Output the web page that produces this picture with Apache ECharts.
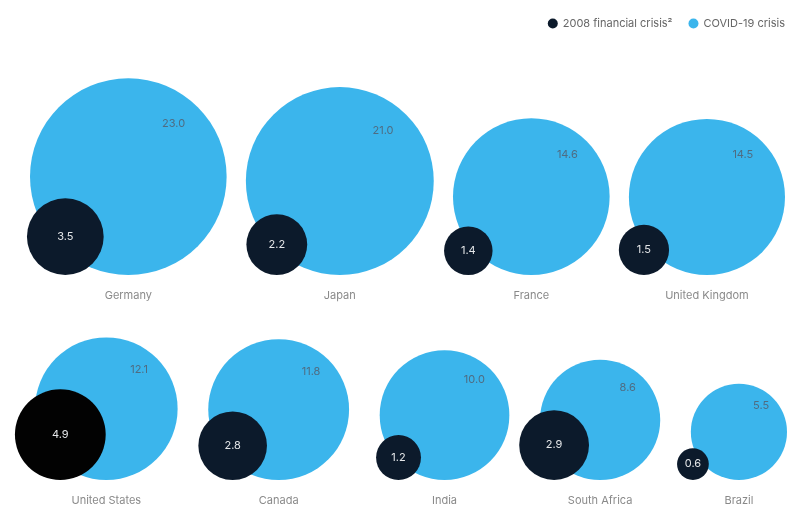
<!DOCTYPE html>
<html>
<head>
<meta charset="utf-8">
<script src="https://cdn.jsdelivr.net/npm/echarts@6/dist/echarts.min.js"></script>
<style>
html,body{margin:0;padding:0;background:#fff;}
#chart{width:792px;height:506px;}
</style>
</head>
<body>
<div id="chart"></div>
<script>
// row 1
var countries1 = ['Germany', 'Japan', 'France', 'United Kingdom'];
var covid1 = [23.0, 21.0, 14.6, 14.5];
var crisis1 = [3.5, 2.2, 1.4, 1.5];
// row 2
var countries2 = ['United States', 'Canada', 'India', 'South Africa', 'Brazil'];
var covid2 = [12.1, 11.8, 10.0, 8.6, 5.5];
var crisis2 = [4.9, 2.8, 1.2, 2.9, 0.6];

var K = 20.5; // px radius per sqrt(unit)
var BLUE = '#3bb5ec';
var NAVY = '#0c1a2b';

function radius(v){
	return K * Math.sqrt(v);
}

// spread the blue circles evenly between x0 and x1
function layoutRow(values, x0, x1){
	var sum = 0, i;
	for(i = 0; i < values.length; i++){
		sum += radius(values[i]) * 2;
	}
	var gap = (x1 - x0 - sum) / (values.length - 1);
	var xs = [], x = x0;
	for(i = 0; i < values.length; i++){
		var r = radius(values[i]);
		xs.push(x + r);
		x += r * 2 + gap;
	}
	return xs;
}

function buildRow(idx, names, covid, crisis, x0, x1, dx){
	var xs = layoutRow(covid, x0, x1);
	var blue = [], dark = [], lbl = [];
	for(var i = 0; i < names.length; i++){
		blue.push({
			name: names[i],
			value: [xs[i], 0, covid[i]],
			symbolOffset: [0, -radius(covid[i])]
		});
		var d = {
			name: names[i],
			value: [xs[i], 0, crisis[i]],
			symbolOffset: [dx, -radius(crisis[i])]
		};
		if(names[i] === 'United States'){
			d.itemStyle = { color: '#020202' };
		}
		dark.push(d);
		lbl.push({ name: names[i], value: [xs[i], 0] });
	}
	var size = function(val){ return radius(val[2]) * 2; };
	return [{
		name: 'COVID-19 crisis',
		type: 'scatter',
		xAxisIndex: idx, yAxisIndex: idx,
		clip: false,
		symbol: 'circle',
		symbolSize: size,
		itemStyle: { color: BLUE, opacity: 1 },
		label: {
			show: true,
			position: ['73%', '23%'],
			align: 'center',
			verticalAlign: 'middle',
			color: '#4f6c82',
			fontSize: 11,
			fontFamily: 'Inter',
			formatter: function(p){ return p.value[2].toFixed(1); }
		},
		emphasis: { disabled: true },
		data: blue
	}, {
		name: '2008 financial crisis²',
		type: 'scatter',
		xAxisIndex: idx, yAxisIndex: idx,
		clip: false,
		symbol: 'circle',
		symbolSize: size,
		itemStyle: { color: NAVY, opacity: 1 },
		label: {
			show: true,
			position: 'inside',
			color: '#e4e6e8',
			fontSize: 11,
			fontFamily: 'Inter',
			formatter: function(p){ return p.value[2].toFixed(1); }
		},
		emphasis: { disabled: true },
		data: dark
	}, {
		name: 'names',
		type: 'scatter',
		xAxisIndex: idx, yAxisIndex: idx,
		clip: false,
		symbolSize: 2,
		itemStyle: { color: 'rgba(0,0,0,0)' },
		label: {
			show: true,
			position: 'bottom',
			distance: 14,
			color: '#6b6b6b',
			fontSize: 11,
			fontFamily: 'Inter',
			formatter: '{b}'
		},
		emphasis: { disabled: true },
		silent: true,
		data: lbl
	}];
}

var series = buildRow(0, countries1, covid1, crisis1, 30, 785, -63)
	.concat(buildRow(1, countries2, covid2, crisis2, 35, 787, -46));

function xAx(i){
	return { gridIndex: i, type: 'value', min: 0, max: 792, show: false };
}
function yAx(i){
	return { gridIndex: i, type: 'value', min: 0, max: 1, show: false };
}

var option = {
	backgroundColor: '#fff',
	animation: false,
	legend: {
		data: ['2008 financial crisis²', 'COVID-19 crisis'],
		right: 2,
		top: 13,
		icon: 'circle',
		itemWidth: 10,
		itemHeight: 10,
		itemGap: 16,
		selectedMode: false,
		textStyle: { color: '#666', fontSize: 11, fontFamily: 'Inter' }
	},
	grid: [
		{ left: 0, right: 0, top: 40, height: 235 },
		{ left: 0, right: 0, top: 330, height: 150 }
	],
	xAxis: [xAx(0), xAx(1)],
	yAxis: [yAx(0), yAx(1)],
	series: series
};

var myChart = echarts.init(document.getElementById('chart'));
myChart.setOption(option);
</script>
</body>
</html>
